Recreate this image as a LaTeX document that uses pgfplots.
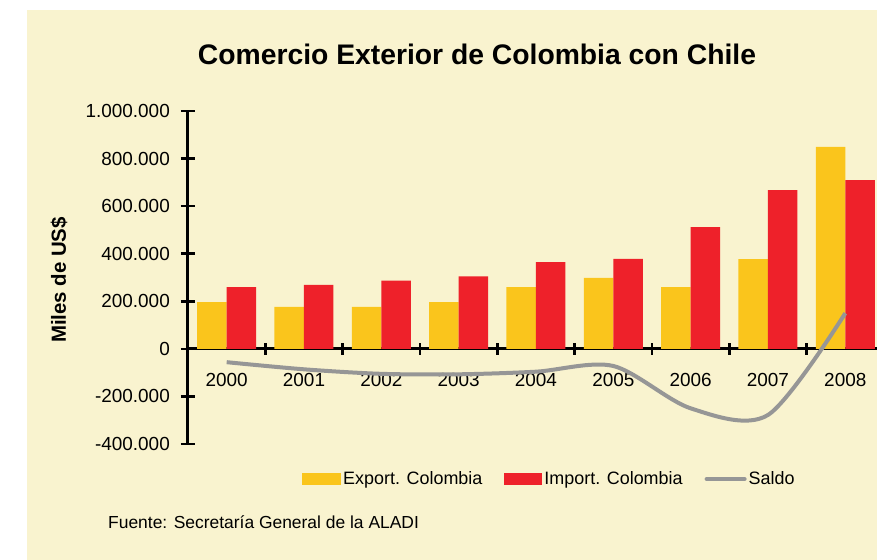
\documentclass[border=0pt]{standalone}
\usepackage{pgfplots}
\pgfplotsset{compat=1.18}
\usepackage{fontspec}
\setmainfont{Liberation Sans}
\definecolor{bg}{RGB}{249,243,207}
\definecolor{expc}{RGB}{250,197,28}
\definecolor{impc}{RGB}{238,33,42}
\definecolor{saldoc}{RGB}{150,150,150}
\begin{document}
\begin{tikzpicture}
\useasboundingbox (-188bp,-116bp) rectangle (689bp,444bp);
\fill[bg] (-161bp,-116bp) rectangle (689bp,434bp);
\begin{axis}[
  at={(0,0)}, anchor=south west,
  scale only axis, width=689bp, height=333bp,
  xmin=-0.5, xmax=8.41, ymin=-400000, ymax=1000000,
  axis x line=middle, axis y line=left,
  axis line style={line width=3bp, -, black},
  scaled y ticks=false,
  xtick={0,...,8},
  xticklabels={2000,2001,2002,2003,2004,2005,2006,2007,2008},
  minor xtick={0.5,1.5,...,7.5},
  ytick={-400000,-200000,0,200000,400000,600000,800000,1000000},
  yticklabels={-400.000,-200.000,0,200.000,400.000,600.000,800.000,1.000.000},
  tick align=center,
  major tick length=14bp, minor tick length=12bp,
  tick style={line width=2.5bp, black},
  every major x tick/.append style={draw=none},
  ticklabel style={font=\fontsize{19}{22}\selectfont},
  yticklabel style={anchor=east, inner sep=0pt, xshift=-11bp},
  xticklabel style={anchor=north, inner sep=0pt, yshift=-17bp},
  legend columns=3,
  legend cell align=left,
  legend style={at={(0.1655,-0.105)}, anchor=west, draw=none, fill=none,
    inner sep=0pt, font=\fontsize{18}{21}\selectfont,
    nodes={inner sep=2bp},
    /tikz/every even column/.append style={column sep=20bp}},
]
\addplot[ybar, bar width=29.5bp, bar shift=-14.75bp, fill=expc, draw=none,
  legend image code/.code={\fill[expc] (0bp,-6bp) rectangle (39bp,6bp);}]
  coordinates {(0,196000) (1,176000) (2,176000) (3,196000) (4,260000) (5,298000) (6,260000) (7,377000) (8,849000)};
\addlegendentry{Export. Colombia}
\addplot[ybar, bar width=29.5bp, bar shift=14.75bp, fill=impc, draw=none,
  legend image code/.code={\fill[impc] (0bp,-6bp) rectangle (38bp,6bp);}]
  coordinates {(0,260000) (1,269000) (2,287000) (3,305000) (4,365000) (5,378000) (6,512000) (7,667000) (8,709000)};
\addlegendentry{Import. Colombia}
\addplot[saldoc, line width=4bp, smooth, no markers,
  legend image code/.code={\draw[saldoc, line width=4bp, line cap=round] (0bp,0bp) -- (38bp,0bp);}]
  coordinates {(0,-56000) (1,-86000) (2,-105000) (3,-107000) (4,-96000) (5,-72000) (6,-250000) (7,-278000) (8,150000)};
\addlegendentry{Saldo}
\end{axis}
\node[anchor=base, inner sep=0pt, font=\bfseries\fontsize{28.4}{32}\selectfont] at (289bp,379.5bp) {Comercio Exterior de Colombia con Chile};
\node[rotate=90, inner sep=0pt, font=\bfseries\fontsize{20.5}{24}\selectfont] at (-129bp,164bp) {Miles de US\$};
\node[anchor=west, inner sep=0pt, font=\fontsize{17.5}{20}\selectfont] at (-80bp,-78bp) {Fuente: Secretaría General de la ALADI};
\end{tikzpicture}
\end{document}
